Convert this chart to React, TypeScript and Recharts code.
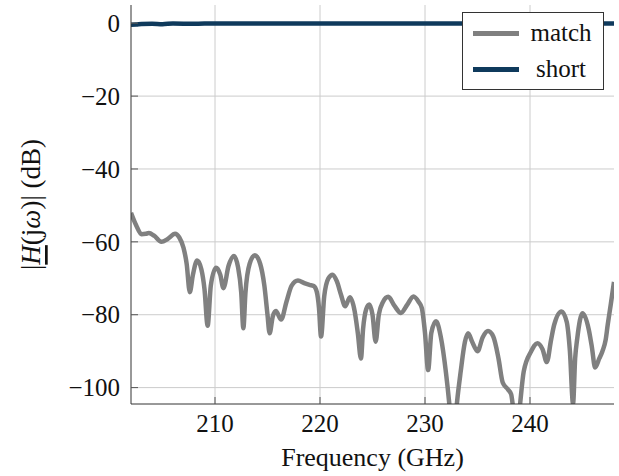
import { CartesianGrid, Label, Line, LineChart, XAxis, YAxis } from 'recharts'

// frequency sweep (GHz) and measured magnitude (dB)
const matchFreq = [
  202.0, 202.5, 203.0, 203.4, 203.7, 204.2, 204.9, 205.5, 206.2, 206.6,
  207.0, 207.3, 207.6, 207.9, 208.3, 208.7, 209.0, 209.3, 209.6, 210.1,
  210.5, 210.8, 211.3, 211.8, 212.2, 212.5, 212.7, 212.9, 213.3, 213.8,
  214.3, 214.7, 215.0, 215.2, 215.5, 215.8, 216.3, 216.8, 217.3, 217.9,
  218.5, 219.0, 219.4, 219.7, 219.9, 220.1, 220.4, 220.8, 221.2, 221.6,
  222.0, 222.4, 222.85, 223.3, 223.6, 223.9, 224.1, 224.4, 224.7, 225.0,
  225.3, 225.6, 226.0, 226.5, 227.1, 227.7, 228.3, 228.9, 229.4, 229.7,
  230.0, 230.3, 230.6, 231.05, 231.5, 232.0, 232.3, 232.55, 232.8, 233.05,
  233.4, 233.8, 234.1, 234.5, 235.0, 235.5, 236.0, 236.5, 237.0, 237.4,
  237.9, 238.2, 238.5, 238.75, 239.0, 239.4, 240.1, 240.7, 241.2, 241.6,
  242.0, 242.3, 243.0, 243.5, 243.8, 244.1, 244.3, 244.5, 245.0, 245.6,
  245.9, 246.2, 246.6, 246.9, 247.2, 247.4, 247.7, 248.0,
]
const matchDb = [
  -52.0, -55.5, -57.9, -57.8, -57.6, -58.3, -60.0, -59.2, -57.8, -58.8,
  -61.6, -66.0, -73.8, -69.0, -65.1, -67.5, -73.0, -83.0, -72.0, -67.1,
  -69.0, -72.7, -66.5, -63.9, -67.0, -74.0, -83.7, -74.0, -66.0, -63.7,
  -66.0, -72.0, -80.0, -85.1, -80.5, -79.0, -81.3, -76.5, -72.0, -70.6,
  -71.3, -71.8, -72.1, -73.8, -78.0, -86.0, -75.0, -70.0, -69.0, -70.8,
  -74.5, -77.7, -75.2, -79.0, -85.0, -92.0, -84.0, -78.5, -77.2, -80.0,
  -87.4, -80.0, -76.5, -75.1, -77.6, -79.5, -77.3, -75.0, -76.5, -78.2,
  -85.0, -95.2, -85.0, -81.8, -86.0, -96.0, -104.0, -112.0, -112.0, -104.0,
  -95.6, -87.5, -85.1, -87.5, -90.0, -86.2, -84.5, -86.0, -92.0, -98.6,
  -100.5, -101.8, -108.0, -112.0, -106.0, -95.6, -90.1, -87.8, -89.5, -93.0,
  -87.0, -82.8, -79.1, -82.0, -90.0, -104.4, -92.0, -86.5, -79.6, -84.1,
  -89.0, -94.5, -92.0, -90.0, -87.0, -82.8, -77.0, -71.0,
]

const shortFreq = [202, 202.5, 203, 204, 205, 206, 208, 210, 215, 220, 225, 230, 235, 240, 248]
const shortDb = [-0.4, -0.35, -0.2, -0.15, -0.25, -0.1, -0.15, -0.05, -0.1, -0.05, -0.1, -0.05, -0.05, -0.05, -0.05]

const xTicks = [210, 220, 230, 240]
const yTicks = [0, -20, -40, -60, -80, -100]

const matchData = matchFreq.map((f, i) => ({ f, db: matchDb[i] }))
const shortData = shortFreq.map((f, i) => ({ f, db: shortDb[i] }))

const FONT = "'Liberation Serif', Tinos, 'Times New Roman', serif"
const GRAY = '#808080'
const NAVY = '#0f3a5c'
const FRAME = '#333333'

const fmt = (v: number) => (v < 0 ? '\u2212' + Math.abs(v) : String(v))

function XTick({ x, y, payload }: any) {
  return (
    <text x={x} y={y} dy="0.71em" textAnchor="middle" style={{ fontFamily: FONT }} fontSize={25} fill="#111">
      {fmt(payload.value)}
    </text>
  )
}

function YTick({ x, y, payload }: any) {
  return (
    <text x={x} y={y} dy="0.35em" textAnchor="end" style={{ fontFamily: FONT }} fontSize={25} fill="#111">
      {fmt(payload.value)}
    </text>
  )
}

function XLabel({ viewBox }: any) {
  return (
    <text x={viewBox.x + viewBox.width / 2} y={viewBox.y + 62} textAnchor="middle" style={{ fontFamily: FONT }} fontSize={26} fill="#111">
      Frequency (GHz)
    </text>
  )
}

function YLabel({ viewBox }: any) {
  const cx = viewBox.x + 31
  const cy = viewBox.y + viewBox.height / 2
  return (
    <text
      x={cx}
      y={cy}
      transform={`rotate(-90, ${cx}, ${cy})`}
      textAnchor="middle"
      dominantBaseline="central"
      style={{ fontFamily: FONT }}
      fontSize={27}
      fill="#111"
    >
      <tspan>|</tspan>
      <tspan fontStyle="italic" textDecoration="underline">H</tspan>
      <tspan>(j</tspan>
      <tspan fontStyle="italic">ω</tspan>
      <tspan>)| (dB)</tspan>
    </text>
  )
}

const legendRows = [
  { name: 'match', color: GRAY },
  { name: 'short', color: NAVY },
]

function LegendBox() {
  return (
    <div
      style={{
        position: 'absolute',
        left: 462,
        top: 12,
        border: `1px solid ${FRAME}`,
        background: '#fff',
        width: 140,
        height: 74,
        paddingTop: 2,
      }}
    >
      {legendRows.map((r) => (
        <div key={r.name} style={{ display: 'flex', alignItems: 'center', height: 36 }}>
          <div style={{ marginLeft: 10, width: 46, height: 5, background: r.color }} />
          <div style={{ flex: 1, textAlign: 'center', fontFamily: FONT, fontSize: 25, color: '#111', lineHeight: '36px' }}>
            {r.name}
          </div>
        </div>
      ))}
    </div>
  )
}

export default function App() {
  return (
    <div style={{ position: 'absolute', left: 0, top: 0, width: 619, height: 476, background: '#fff' }}>
      <LineChart width={619} height={476} margin={{ top: 5, right: 5, bottom: 0, left: 0 }}>
        <CartesianGrid stroke="#cccccc" strokeWidth={1} horizontalValues={yTicks} verticalValues={xTicks} />
        <XAxis
          dataKey="f"
          type="number"
          domain={[202, 248]}
          ticks={xTicks}
          allowDataOverflow
          height={72}
          tick={<XTick />}
          tickSize={-7}
          tickMargin={17}
          tickLine={{ stroke: '#555' }}
          axisLine={{ stroke: FRAME }}
        >
          <Label content={<XLabel />} />
        </XAxis>
        <XAxis
          xAxisId="top"
          orientation="top"
          type="number"
          domain={[202, 248]}
          ticks={xTicks}
          allowDataOverflow
          height={0}
          tickFormatter={() => ''}
          tickSize={-7}
          tickLine={{ stroke: '#555' }}
          axisLine={{ stroke: FRAME }}
        />
        <YAxis
          type="number"
          domain={[-104.5, 5]}
          ticks={yTicks}
          allowDataOverflow
          width={131}
          tick={<YTick />}
          tickSize={-7}
          tickMargin={18}
          tickLine={{ stroke: '#555' }}
          axisLine={{ stroke: FRAME }}
        >
          <Label content={<YLabel />} />
        </YAxis>
        <YAxis
          yAxisId="right"
          orientation="right"
          type="number"
          domain={[-104.5, 5]}
          ticks={yTicks}
          allowDataOverflow
          width={0}
          tickFormatter={() => ''}
          tickSize={-7}
          tickLine={{ stroke: '#555' }}
          axisLine={{ stroke: FRAME }}
        />
        <Line
          data={matchData}
          dataKey="db"
          name="match"
          type="monotone"
          stroke={GRAY}
          strokeWidth={4.5}
          strokeLinejoin="round"
          dot={false}
          activeDot={false}
          isAnimationActive={false}
        />
        <Line
          data={shortData}
          dataKey="db"
          name="short"
          type="monotone"
          stroke={NAVY}
          strokeWidth={4.5}
          dot={false}
          activeDot={false}
          isAnimationActive={false}
        />
      </LineChart>
      <LegendBox />
    </div>
  )
}
